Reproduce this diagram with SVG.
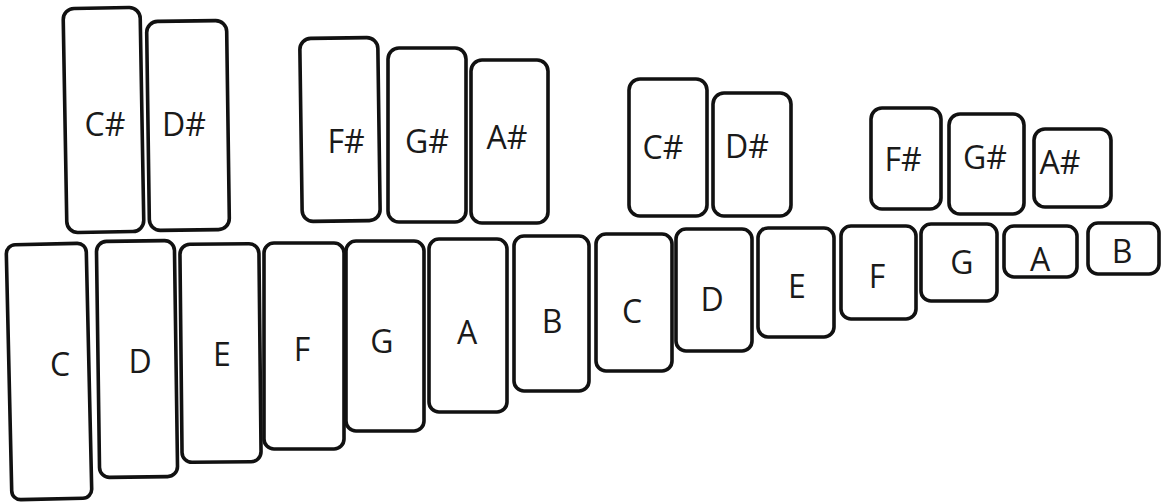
<svg xmlns="http://www.w3.org/2000/svg" width="1161" height="503" viewBox="0 0 1161 503">
<style>
.bar{fill:#fff;stroke:#111;stroke-width:3.6}
.lbl{font-family:"Open Sans","Noto Sans",sans-serif;font-size:32px;fill:#1a1a1a;text-anchor:middle}
</style>
<rect width="1161" height="503" fill="#fff"/>
<g id="upper-sharps">
<g id="cs1"><rect class="bar" x="65" y="8" width="77" height="224" rx="11" transform="rotate(-1 103 120)"/><text class="lbl" x="105" y="136">C#</text></g>
<g id="ds1"><rect class="bar" x="148" y="21" width="80" height="209" rx="11" transform="rotate(-0.8 188 125)"/><text class="lbl" x="184" y="136">D#</text></g>
<g id="fs1"><rect class="bar" x="301" y="38" width="78" height="183" rx="11" transform="rotate(-0.8 340 130)"/><text class="lbl" x="346" y="153">F#</text></g>
<g id="gs1"><rect class="bar" x="388" y="48" width="78" height="174" rx="11"/><text class="lbl" x="427" y="153">G#</text></g>
<g id="as1"><rect class="bar" x="471" y="60" width="77" height="163" rx="11"/><text class="lbl" x="507" y="149">A#</text></g>
<g id="cs2"><rect class="bar" x="629" y="79" width="78" height="137" rx="11"/><text class="lbl" x="663" y="159">C#</text></g>
<g id="ds2"><rect class="bar" x="713" y="93" width="78" height="123" rx="11"/><text class="lbl" x="747" y="158">D#</text></g>
<g id="fs2"><rect class="bar" x="871" y="108" width="70" height="101" rx="11"/><text class="lbl" x="903" y="171">F#</text></g>
<g id="gs2"><rect class="bar" x="949" y="114" width="75" height="100" rx="11"/><text class="lbl" x="985" y="169">G#</text></g>
<g id="as2"><rect class="bar" x="1034" y="129" width="77" height="78" rx="11"/><text class="lbl" x="1060" y="174">A#</text></g>
</g>
<g id="naturals">
<g id="c1"><rect class="bar" x="9" y="244" width="80" height="255" rx="9" transform="rotate(-1.3 49 371)"/><text class="lbl" x="60" y="376">C</text></g>
<g id="d1"><rect class="bar" x="98" y="241" width="78" height="236" rx="10" transform="rotate(-0.8 137 359)"/><text class="lbl" x="140" y="373">D</text></g>
<g id="e1"><rect class="bar" x="181" y="244" width="79" height="218" rx="10" transform="rotate(-0.6 220 353)"/><text class="lbl" x="222" y="366">E</text></g>
<g id="f1"><rect class="bar" x="264" y="243" width="80" height="206" rx="10"/><text class="lbl" x="302" y="361">F</text></g>
<g id="g1"><rect class="bar" x="346" y="241" width="78" height="190" rx="10"/><text class="lbl" x="382" y="353">G</text></g>
<g id="a1"><rect class="bar" x="429" y="239" width="78" height="173" rx="10"/><text class="lbl" x="467" y="344">A</text></g>
<g id="b1"><rect class="bar" x="514" y="236" width="75" height="155" rx="10"/><text class="lbl" x="552" y="333">B</text></g>
<g id="c2"><rect class="bar" x="596" y="234" width="76" height="137" rx="10"/><text class="lbl" x="632" y="323">C</text></g>
<g id="d2"><rect class="bar" x="676" y="229" width="76" height="122" rx="10"/><text class="lbl" x="712" y="311">D</text></g>
<g id="e2"><rect class="bar" x="758" y="228" width="76" height="109" rx="10"/><text class="lbl" x="797" y="298">E</text></g>
<g id="f2"><rect class="bar" x="841" y="226" width="75" height="93" rx="10"/><text class="lbl" x="877" y="288">F</text></g>
<g id="g2"><rect class="bar" x="921" y="224" width="76" height="77" rx="10"/><text class="lbl" x="962" y="274">G</text></g>
<g id="a2"><rect class="bar" x="1004" y="226" width="73" height="51" rx="10"/><text class="lbl" x="1040" y="271">A</text></g>
<g id="b2"><rect class="bar" x="1088" y="223" width="71" height="51" rx="10"/><text class="lbl" x="1122" y="263">B</text></g>
</g>
</svg>
